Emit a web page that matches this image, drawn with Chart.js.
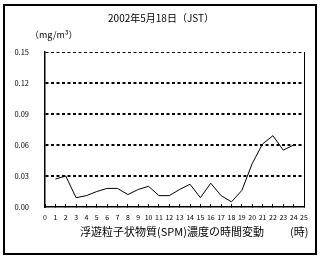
<!DOCTYPE html>
<html>
<head>
<meta charset="utf-8">
<script src="https://cdn.jsdelivr.net/npm/chart.js@4"></script>
<style>
  html, body { margin: 0; padding: 0; background: #fff; }
  canvas { display: block; }
</style>
</head>
<body>
<canvas id="spmChart" width="324" height="261"></canvas>
<script>
// hours along the bottom, 0 to 25
const hourLabels = ['0','1','2','3','4','5','6','7','8','9','10','11','12',
  '13','14','15','16','17','18','19','20','21','22','23','24','25'];

// SPM concentration (mg/m3) per hour, no reading at 0 and 25
const spmValues = [null, 0.027, 0.030, 0.009, 0.011, 0.015, 0.018, 0.018, 0.012,
  0.017, 0.020, 0.011, 0.011, 0.017, 0.022, 0.009, 0.023, 0.011, 0.005,
  0.016, 0.042, 0.061, 0.069, 0.055, 0.060, null];

const yTicks = [0, 0.03, 0.06, 0.09, 0.12, 0.15];

const jpFont = '"Noto Sans CJK JP", "DejaVu Sans", sans-serif';

// frame, right edge of the plot and the loose texts
const decorations = {
  id: 'decorations',
  afterDraw(chart) {
    const ctx = chart.ctx;
    const area = chart.chartArea;
    ctx.save();
    ctx.strokeStyle = '#000';
    ctx.lineWidth = 2;
    ctx.strokeRect(4, 5, 312, 249);

    ctx.lineWidth = 1;
    ctx.beginPath();
    ctx.moveTo(Math.round(area.right) + 0.5, area.top);
    ctx.lineTo(Math.round(area.right) + 0.5, area.bottom);
    ctx.stroke();

    ctx.fillStyle = '#000';
    ctx.textBaseline = 'middle';
    ctx.textAlign = 'center';
    ctx.font = '10px ' + jpFont;
    ctx.fillText('2002年5月18日（JST）', 161, 18);

    ctx.textAlign = 'left';
    ctx.font = '9px ' + jpFont;
    ctx.fillText('（mg/m³）', 30, 35);

    ctx.font = '11px ' + jpFont;
    ctx.fillText('浮遊粒子状物質(SPM)濃度の時間変動', 80, 232);
    ctx.fillText('(時)', 290, 232);
    ctx.restore();
  }
};

new Chart(document.getElementById('spmChart'), {
  type: 'line',
  data: {
    labels: hourLabels,
    datasets: [{
      data: spmValues,
      borderColor: '#000',
      borderWidth: 1,
      pointRadius: 0,
      tension: 0,
      fill: false
    }]
  },
  options: {
    responsive: false,
    animation: false,
    layout: { padding: { top: 52, right: 20, bottom: 0, left: 0 } },
    plugins: {
      legend: { display: false },
      title: { display: false },
      tooltip: { enabled: false }
    },
    scales: {
      x: {
        offset: false,
        afterFit: s => { s.height = 54; },
        grid: {
          display: true,
          drawOnChartArea: false,
          drawTicks: true,
          tickLength: -3,
          color: '#000',
          lineWidth: 1
        },
        border: { display: true, color: '#000', width: 1.5 },
        ticks: {
          autoSkip: false,
          maxRotation: 0,
          padding: 9,
          color: '#000',
          font: { size: 7, family: jpFont }
        }
      },
      y: {
        min: 0,
        max: 0.15,
        afterFit: s => { s.width = 45; },
        afterBuildTicks: s => { s.ticks = yTicks.map(v => ({ value: v })); },
        grid: {
          drawTicks: false,
          color: c => c.tick && c.tick.value === 0 ? 'rgba(0,0,0,0)' : '#000',
          lineWidth: c => c.tick && c.tick.value === 0.15 ? 1 : 2
        },
        // dash here applies to the grid lines
        border: { display: true, color: '#000', width: 1.5, dash: [3, 2.5] },
        ticks: {
          padding: 16,
          color: '#000',
          font: { size: 7.5, family: jpFont },
          callback: v => v.toFixed(2)
        }
      }
    }
  },
  plugins: [decorations]
});
</script>
</body>
</html>
